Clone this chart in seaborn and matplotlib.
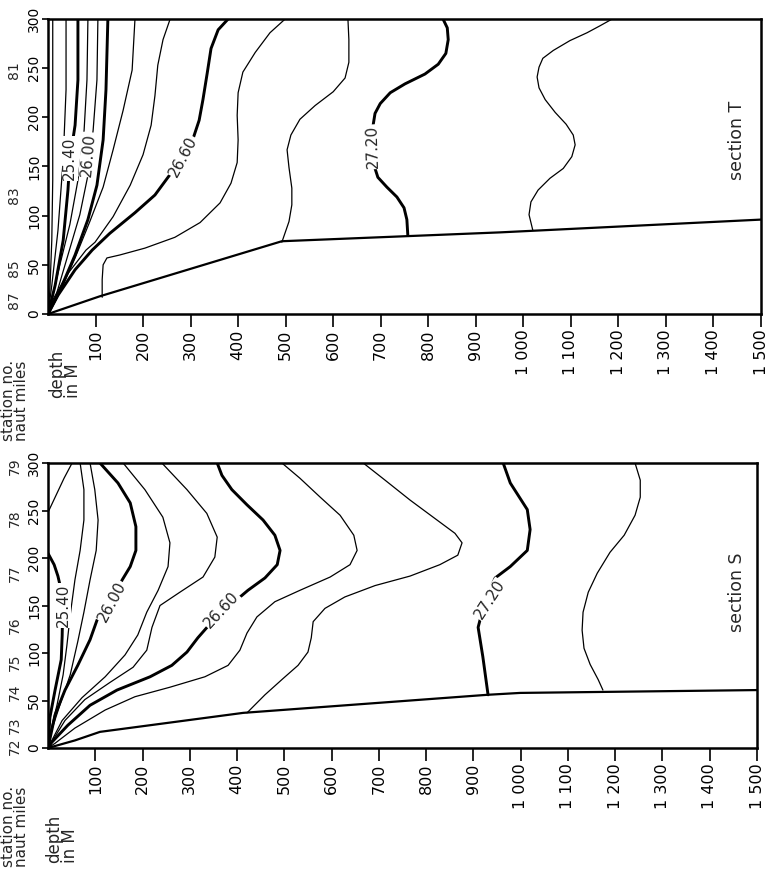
import matplotlib
matplotlib.use('Agg')
import matplotlib.pyplot as plt
import matplotlib.transforms as mtransforms
import seaborn as sns

# ---------------- section T (upper panel) ----------------
# depth in metres, distance in nautical miles
t_floor_depth = [0, 109, 492, 951, 1500]
t_floor_dist = [0, 18, 74, 83, 96]

t2500_depth = [10, 10, 10, 8, 4, 0]
t2500_dist = [300, 218, 136, 75, 24, 0]
t2520_depth = [38, 38, 32, 21, 8, 0]
t2520_dist = [300, 228, 157, 85, 29, 0]
t2540_depth = [63, 63, 57, 46, 42, 32, 15, 0]
t2540_dist = [300, 238, 192, 157, 126, 75, 29, 0]
t2560_depth = [84, 82, 76, 63, 46, 25, 8, 0]
t2560_dist = [300, 238, 187, 136, 91, 50, 14, 0]
t2580_depth = [105, 103, 95, 84, 67, 42, 17, 0]
t2580_dist = [300, 238, 187, 141, 101, 60, 19, 0]
t2600_depth = [126, 122, 116, 103, 84, 57, 25, 0]
t2600_dist = [300, 228, 177, 131, 96, 60, 24, 0]
t2620_depth = [183, 177, 158, 137, 116, 88, 57, 25, 0]
t2620_dist = [300, 248, 207, 167, 129, 94, 57, 22, 0]
t2640_depth = [257, 242, 231, 225, 217, 200, 173, 137, 99, 80, 40, 12, 0]
t2640_dist = [300, 279, 253, 222, 192, 162, 131, 99, 73, 65, 40, 16, 0]
t2660_depth = [379, 358, 343, 335, 326, 318, 305, 284, 257, 225, 183, 130, 93, 57, 21, 0]
t2660_dist = [300, 289, 270, 245, 218, 197, 178, 160, 142, 121, 103, 82, 65, 45, 19, 0]
t2680_depth = [499, 467, 436, 410, 400, 398, 400, 398, 385, 362, 320, 267, 204, 151, 124,
               116, 114, 114]
t2680_dist = [300, 286, 266, 246, 225, 202, 177, 154, 133, 113, 93, 78, 67, 60, 57, 50, 35, 17]
t2700_depth = [631, 633, 633, 625, 600, 562, 530, 511, 503, 507, 513, 513, 507, 492]
t2700_dist = [300, 279, 256, 240, 226, 212, 198, 182, 167, 149, 128, 111, 94, 73]
t2720_depth = [831, 840, 842, 837, 821, 793, 751, 720, 699, 688, 684, 684, 686, 694, 713, 734,
               749, 755, 757]
t2720_dist = [300, 291, 279, 265, 254, 244, 234, 225, 214, 204, 192, 170, 151, 139, 129, 119,
              108, 96, 80]
t2740_depth = [1187, 1161, 1134, 1098, 1063, 1041, 1033, 1029, 1033, 1046, 1067, 1090, 1105,
               1109, 1102, 1084, 1056, 1031, 1016, 1012, 1020]
t2740_dist = [300, 293, 286, 278, 268, 260, 251, 241, 230, 218, 205, 193, 182, 172, 160, 148,
              138, 126, 114, 101, 85]

t_station_no = ['87', '85', '83', '81']
t_station_dist = [14, 47, 121, 248]

# ---------------- section S (lower panel) ----------------
s_floor_depth = [0, 57, 110, 413, 929, 999, 1500]
s_floor_dist = [0, 8, 17, 37, 56, 58, 61]

s_out_depth = [0, 17, 34, 51]
s_out_dist = [248, 266, 284, 300]
s2540_depth = [0, 13, 21, 28, 31, 30, 28, 15, 4, 0]
s2540_dist = [205, 193, 181, 166, 145, 118, 93, 61, 32, 0]
s2560_depth = [68, 76, 76, 68, 57, 47, 40, 32, 19, 6, 0]
s2560_dist = [300, 272, 240, 208, 177, 140, 108, 77, 45, 19, 0]
s2580_depth = [89, 99, 106, 102, 89, 76, 63, 47, 25, 8, 0]
s2580_dist = [300, 272, 240, 208, 177, 143, 112, 77, 45, 19, 0]
s2600_depth = [110, 148, 174, 186, 186, 174, 157, 135, 104, 89, 63, 36, 15, 0]
s2600_dist = [300, 279, 258, 233, 208, 191, 177, 154, 135, 114, 87, 61, 35, 0]
s2620_depth = [159, 205, 243, 258, 254, 233, 209, 190, 163, 121, 72, 30, 0]
s2620_dist = [300, 272, 243, 216, 191, 166, 143, 119, 98, 75, 53, 29, 0]
s2640_depth = [241, 294, 336, 358, 353, 328, 279, 237, 220, 209, 180, 131, 78, 36, 0]
s2640_dist = [300, 272, 247, 222, 201, 180, 164, 150, 127, 103, 85, 69, 51, 29, 0]
s2660_depth = [358, 368, 389, 421, 455, 480, 491, 485, 459, 423, 385, 347, 317, 294, 262,
               216, 146, 89, 42, 8, 0]
s2660_dist = [300, 287, 272, 256, 240, 224, 208, 193, 179, 166, 150, 133, 116, 101, 87, 75,
              61, 45, 24, 6, 0]
s2680_depth = [495, 533, 576, 618, 647, 654, 639, 597, 533, 480, 442, 421, 406, 381, 332, 258,
               184, 121, 57, 15, 0]
s2680_dist = [300, 284, 264, 245, 224, 208, 193, 180, 166, 154, 138, 121, 103, 87, 75, 64, 54,
              40, 21, 5, 0]
s2700_depth = [667, 713, 766, 823, 861, 876, 867, 829, 766, 692, 628, 586, 561, 557, 550, 529,
               497, 459, 421]
s2700_dist = [300, 282, 261, 240, 226, 216, 203, 193, 181, 171, 159, 147, 133, 116, 101, 87,
              73, 56, 37]
s2720_depth = [963, 978, 1014, 1020, 1014, 978, 946, 925, 910, 920, 931]
s2720_dist = [300, 279, 251, 230, 208, 191, 179, 156, 127, 96, 56]
s2740_depth = [1242, 1253, 1253, 1242, 1219, 1189, 1162, 1143, 1132, 1130, 1134, 1147, 1164,
               1174]
s2740_dist = [300, 282, 264, 245, 224, 206, 184, 164, 143, 124, 105, 88, 72, 61]

s_station_no = ['72', '73', '74', '75', '76', '77', '78', '79']
s_station_dist = [2, 24, 59, 90, 129, 184, 242, 297]

# axis ticks
depth_ticks = [100, 200, 300, 400, 500, 600, 700, 800, 900, 1000, 1100, 1200, 1300, 1400, 1500]
depth_labels = ['100', '200', '300', '400', '500', '600', '700', '800', '900',
                '1 000', '1 100', '1 200', '1 300', '1 400', '1 500']
dist_ticks = [0, 50, 100, 150, 200, 250, 300]
dist_labels = ['0', '50', '100', '150', '200', '250', '300']

THIN = 0.9
THICK = 2.1

t_lines = [
    (t2500_depth, t2500_dist, THIN), (t2520_depth, t2520_dist, THIN),
    (t2540_depth, t2540_dist, THICK), (t2560_depth, t2560_dist, THIN),
    (t2580_depth, t2580_dist, THIN), (t2600_depth, t2600_dist, THICK),
    (t2620_depth, t2620_dist, THIN), (t2640_depth, t2640_dist, THIN),
    (t2660_depth, t2660_dist, THICK), (t2680_depth, t2680_dist, THIN),
    (t2700_depth, t2700_dist, THIN), (t2720_depth, t2720_dist, THICK),
    (t2740_depth, t2740_dist, THIN),
]
s_lines = [
    (s_out_depth, s_out_dist, THIN), (s2540_depth, s2540_dist, THICK),
    (s2560_depth, s2560_dist, THIN), (s2580_depth, s2580_dist, THIN),
    (s2600_depth, s2600_dist, THICK), (s2620_depth, s2620_dist, THIN),
    (s2640_depth, s2640_dist, THIN), (s2660_depth, s2660_dist, THICK),
    (s2680_depth, s2680_dist, THIN), (s2700_depth, s2700_dist, THIN),
    (s2720_depth, s2720_dist, THICK), (s2740_depth, s2740_dist, THIN),
]
# (text, depth, distance, rotation)
t_labels = [('25.40', 46, 158, 90), ('26.00', 85, 162, 85),
            ('26.60', 284, 160, 62), ('27.20', 683, 170, 92)]
s_labels = [('25.40', 32, 150, 90), ('26.00', 135, 154, 62),
            ('26.60', 368, 145, 47), ('27.20', 935, 156, 57)]

sns.set_theme(style='white')
plt.rcParams['font.family'] = ['DejaVu Sans']
plt.rcParams['axes.linewidth'] = 1.8
plt.rcParams['axes.edgecolor'] = 'black'

fig = plt.figure(figsize=(7.69, 8.71), dpi=100)
ax_t = fig.add_axes([0.0624, 0.6395, 0.9272, 0.3387])
ax_s = fig.add_axes([0.0624, 0.1412, 0.9220, 0.3272])


def draw_panel(ax, lines, labels, floor_d, floor_x, stations, station_dist, name, name_pos):
    for dep, dis, lw in lines:
        sns.lineplot(x=dep, y=dis, sort=False, estimator=None, color='black',
                     linewidth=lw, ax=ax)
    sns.lineplot(x=floor_d, y=floor_x, sort=False, estimator=None, color='black',
                 linewidth=1.6, ax=ax)
    for txt, d, x, rot in labels:
        ax.text(d, x, txt, rotation=rot, ha='center', va='center', fontsize=11,
                bbox=dict(facecolor='white', edgecolor='none', pad=0.5), zorder=5)
    ax.set_xlim(0, 1500)
    ax.set_ylim(0, 300)
    ax.set_xticks(depth_ticks)
    ax.set_xticklabels(depth_labels, rotation=90, fontsize=11.5)
    ax.set_yticks(dist_ticks)
    ax.set_yticklabels(dist_labels, rotation=90, va='center', fontsize=10)
    ax.tick_params(axis='x', direction='out', length=9, width=1.2, pad=2,
                   bottom=True, colors='black')
    ax.tick_params(axis='y', direction='out', length=4, width=1.2, pad=1,
                   left=True, colors='black')
    ax.set_xlabel('')
    ax.set_ylabel('')
    trans = mtransforms.blended_transform_factory(ax.transAxes, ax.transData)
    for s, d in zip(stations, station_dist):
        ax.text(-0.047, d, s, transform=trans, rotation=90, ha='center',
                va='center', fontsize=10, clip_on=False)
    ax.text(name_pos[0], name_pos[1], name, transform=ax.transAxes, rotation=90,
            ha='center', va='center', fontsize=12.5)


draw_panel(ax_t, t_lines, t_labels, t_floor_depth, t_floor_dist,
           t_station_no, t_station_dist, 'section T', (0.966, 0.59))
draw_panel(ax_s, s_lines, s_labels, s_floor_depth, s_floor_dist,
           s_station_no, s_station_dist, 'section S', (0.972, 0.547))

fig.text(1 / 769, 1 - 441 / 871, 'station no.\nnaut miles', rotation=90,
         ha='left', va='bottom', fontsize=11, linespacing=0.85)
fig.text(48 / 769, 1 - 398 / 871, 'depth\nin M', rotation=90,
         ha='left', va='bottom', fontsize=12, linespacing=0.85)
fig.text(1 / 769, 1 - 867 / 871, 'station no.\nnaut miles', rotation=90,
         ha='left', va='bottom', fontsize=11, linespacing=0.85)
fig.text(45 / 769, 1 - 863 / 871, 'depth\nin M', rotation=90,
         ha='left', va='bottom', fontsize=12, linespacing=0.85)

fig.savefig('out.png', dpi=100, facecolor='white')
